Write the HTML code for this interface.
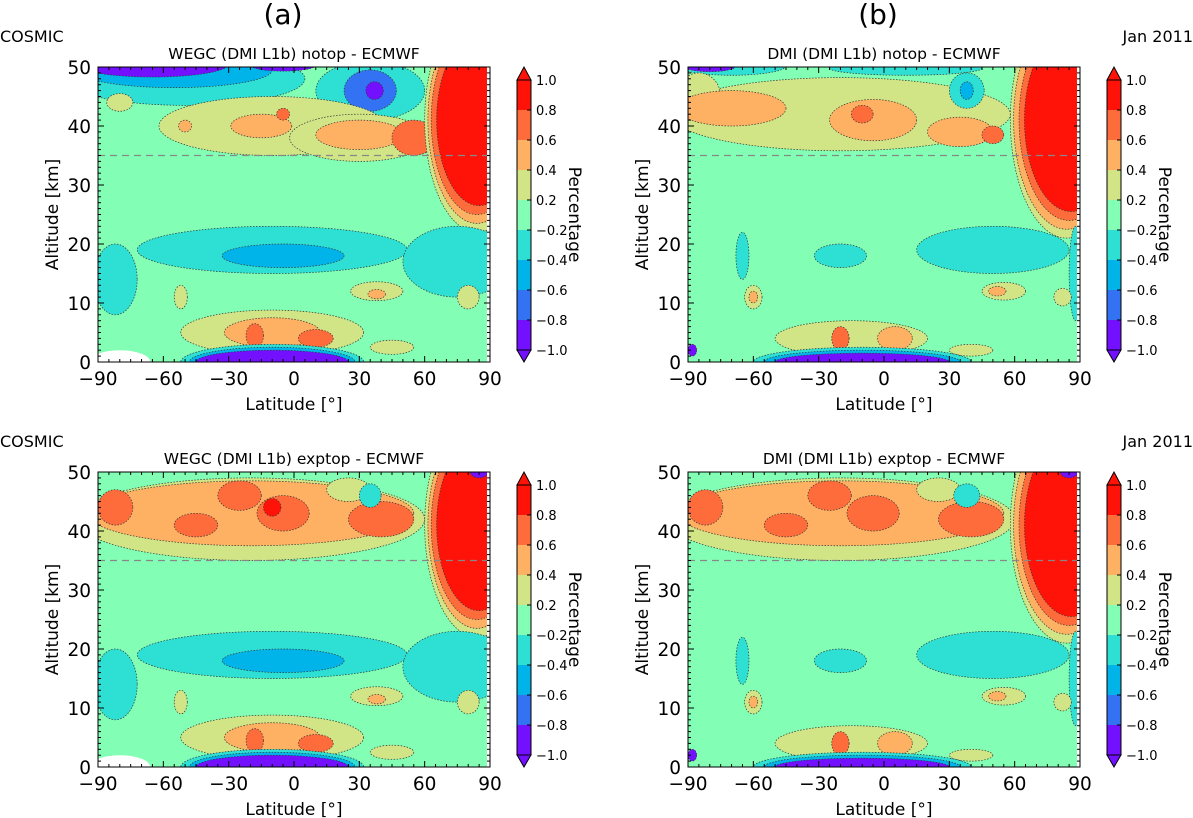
<!DOCTYPE html>
<html><head><meta charset="utf-8">
<style>
html,body{margin:0;padding:0;background:#fff;}
svg{display:block;font-family:"DejaVu Sans","Liberation Sans",sans-serif;}
</style></head>
<body>
<svg id="fig" width="1193" height="818" viewBox="0 0 1193 818" xmlns="http://www.w3.org/2000/svg">
<text x="283" y="24" font-size="28" text-anchor="middle">(a)</text>
<text x="878" y="24" font-size="28" text-anchor="middle">(b)</text>
<text x="0" y="42" font-size="16">COSMIC</text>
<text x="1193" y="42" font-size="16" text-anchor="end">Jan 2011</text>
<text x="0" y="447" font-size="16">COSMIC</text>
<text x="1193" y="447" font-size="16" text-anchor="end">Jan 2011</text>
</svg>
<script>
// level colors: 0:-1..-0.8 ... 4:-0.2..0.2 ... 8:0.8..1.0
const levelColors=['#7210ff','#3472f4','#00b4ea','#2ee0d4','#82ffb4','#d2e586','#ffb163','#ff6c3c','#ff1208'];
const cbTicks=['1.0','0.8','0.6','0.4','0.2','\u22120.2','\u22120.4','\u22120.6','\u22120.8','\u22121.0'];
const latTicks=[-90,-60,-30,0,30,60,90];
const altTicks=[0,10,20,30,40,50];
// blobs: [lat, alt, halfWidthDeg, halfHeightKm, level]  (level -1 = no data)
const blobsATop=[
[-50,48,55,4.5,3],[35,46,25,5,3],[-55,49.5,45,3,2],[35,46,12,3.5,1],[37,46,4,1.5,0],[-65,50.5,35,2.2,0],[-5,50.3,15,1,0],
[-10,40,52,5,5],[30,38,32,4,5],[-80,44,6,1.5,5],
[-15,40,14,2,6],[30,38.5,20,2.5,6],[-50,40,3,1,6],[55,38,10,3,7],[-5,42,3,1,7],
[84,41,24,19,5],[84,41,22.5,17.5,6],[84,41,21,16,7],[85,41,19.5,14.5,8],
[-10,19,62,4,3],[75,17,25,6,3],[-82,14,10,6,3],[-5,18,28,2,2],
[38,12,12,1.6,5],[80,11,5,2,5],[-52,11,3,2,5],[38,11.5,4,0.8,6],
[-10,5,42,3.8,5],[-10,5,22,2.5,6],[-18,4.5,4,2,7],[10,4,8,1.5,7],[45,2.5,10,1.2,5],
[-10,0,42,3,3],[-10,0,38,2.5,2],[-10,0,35,2,0],[-80,0,14,2,-1]
];
const blobsBTop=[
[-70,50.2,25,1.6,3],[-80,50.2,12,1,0],[10,49.8,35,1.2,3],
[-20,42,78,6.2,5],[-85,45,10,4,5],
[-70,43,25,3,6],[-5,41,20,3.5,6],[35,39,15,2.5,6],[-10,42,5,1.5,7],[50,38.5,5,1.5,7],
[38,46,8,3,3],[38,46,3,1.5,2],
[84,41,26,20,5],[84,41,24.5,18.5,6],[85,41,23,17,7],[86,41,21.5,15.5,8],
[50,19,35,4,3],[-20,18,12,2,3],[-65,18,3,4,3],[88,15,3,8,3],
[55,12,10,1.5,5],[-60,11,4,2,5],[-60,11,2,1,6],[52,12,4,0.8,6],[82,11,4,1.5,5],
[-15,4,35,3,5],[-20,4,4,2,7],[5,4,8,2,6],[40,2,10,1,5],
[-10,0,50,2.5,3],[-10,0,45,2,2],[-10,0,40,1.5,0],[-88,2,2,1,0]
];
const blobsABottom=[
[-20,42,80,7,5],[-20,43,75,5.5,6],
[-82,44,8,3,7],[-5,43,12,3,7],[-25,46,10,2.5,7],[40,42,15,3,7],[-45,41,10,2,7],[-10,44,4,1.5,8],
[25,47,10,2,5],[35,46,5,2,3],
[84,41,24,19,5],[84,41,22.5,17.5,6],[84,41,21,16,7],[85,41,19.5,14.5,8],[85,50,4,1,0],
[-10,19,62,4,3],[75,17,25,6,3],[-82,14,10,6,3],[-5,18,28,2,2],
[38,12,12,1.6,5],[80,11,5,2,5],[-52,11,3,2,5],[38,11.5,4,0.8,6],
[-10,5,42,3.8,5],[-10,5,22,2.5,6],[-18,4.5,4,2,7],[10,4,8,1.5,7],[45,2.5,10,1.2,5],
[-10,0,42,3,3],[-10,0,38,2.5,2],[-10,0,35,2,0],[-80,0,14,2,-1]
];
const blobsBBottom=[
[-20,42,80,7,5],[-20,43,75,5.5,6],
[-82,44,8,3,7],[-5,43,12,3,7],[-25,46,10,2.5,7],[40,42,15,3,7],[-45,41,10,2,7],
[25,47,10,2,5],[38,46,6,2,3],
[84,41,26,20,5],[84,41,24.5,18.5,6],[85,41,23,17,7],[86,41,21.5,15.5,8],[85,50,4,1,0],
[50,19,35,4,3],[-20,18,12,2,3],[-65,18,3,4,3],[88,15,3,8,3],
[55,12,10,1.5,5],[-60,11,4,2,5],[-60,11,2,1,6],[52,12,4,0.8,6],[82,11,4,1.5,5],
[-15,4,35,3,5],[-20,4,4,2,7],[5,4,8,2,6],[40,2,10,1,5],
[-10,0,50,2.5,3],[-10,0,45,2,2],[-10,0,40,1.5,0],[-88,2,2,1,0]
];
const NS='http://www.w3.org/2000/svg';
const fig=document.getElementById('fig');
function mk(tag,attrs,parent){const e=document.createElementNS(NS,tag);for(const k in attrs)e.setAttribute(k,attrs[k]);(parent||fig).appendChild(e);return e;}
const W=392,H=295;
function panel(x0,y0,title,blobs,id){
  const xs=lat=>x0+(lat+90)/180*W, ys=alt=>y0+(50-alt)/50*H;
  const g=mk('g',{});
  
  
  const cp=mk('clipPath',{id:'cp'+id},g);mk('rect',{x:x0,y:y0,width:W-3,height:H},cp);
  const pg=mk('g',{'clip-path':'url(#cp'+id+')'},g);
  mk('rect',{x:x0,y:y0,width:W-3,height:H,fill:levelColors[4]},pg);
  blobs.forEach(b=>{
    const e=mk('ellipse',{cx:xs(b[0]),cy:ys(b[1]),rx:b[2]*W/180,ry:b[3]*H/50,
      fill:b[4]<0?'#fff':levelColors[b[4]],stroke:b[4]<0?'none':'#333','stroke-width':0.7,'stroke-dasharray':'1.5,1.5'},pg);
    
    
  });
  const dl=mk('line',{x1:x0,x2:x0+W,y1:ys(35),y2:ys(35),stroke:'#888','stroke-width':1.3,'stroke-dasharray':'7,5'},g);
  
  
  mk('rect',{x:x0,y:y0,width:W,height:H,fill:'none',stroke:'#000','stroke-width':1},g);
  for(let l=-90;l<=90;l+=5){const L=l%30===0?6:3;
    mk('line',{x1:xs(l),x2:xs(l),y1:y0+H,y2:y0+H-L,stroke:'#000'},g);mk('line',{x1:xs(l),x2:xs(l),y1:y0,y2:y0+L,stroke:'#000'},g);}
  for(let a=0;a<=50;a+=1){const L=a%10===0?6:3;
    mk('line',{x1:x0,x2:x0+L,y1:ys(a),y2:ys(a),stroke:'#000'},g);mk('line',{x1:x0+W,x2:x0+W-L,y1:ys(a),y2:ys(a),stroke:'#000'},g);}
  latTicks.forEach(l=>{const t=mk('text',{x:xs(l),y:y0+H+23,'font-size':18.5,'text-anchor':'middle'},g);t.textContent=(l<0?'\u2212':'')+Math.abs(l);
    });
  altTicks.forEach(a=>{const t=mk('text',{x:x0-7,y:ys(a)+7,'font-size':18.5,'text-anchor':'end'},g);t.textContent=a;
    });
  const tt=mk('text',{x:x0+W/2,y:y0-8,'font-size':15.5,'text-anchor':'middle'},g);tt.textContent=title;
  
  const xl=mk('text',{x:x0+W/2,y:y0+H+48,'font-size':17,'text-anchor':'middle'},g);xl.textContent='Latitude [\u00b0]';
  
  const yl=mk('text',{x:0,y:0,'font-size':17,'text-anchor':'middle',transform:`translate(${x0-40},${y0+H/2}) rotate(-90)`},g);yl.textContent='Altitude [km]';
  
  // colorbar
  const cx=x0+W+27,cw=14,top=y0+13,seg=30;
  const cb=mk('g',{},g);
  
  for(let i=0;i<9;i++)mk('rect',{x:cx,y:top+i*seg,width:cw,height:seg,fill:levelColors[8-i]},cb);
  mk('polygon',{points:`${cx},${top} ${cx+cw/2},${y0} ${cx+cw},${top}`,fill:levelColors[8],stroke:'#000'},cb);
  mk('polygon',{points:`${cx},${top+270} ${cx+cw/2},${y0+H} ${cx+cw},${top+270}`,fill:levelColors[0],stroke:'#000'},cb);
  mk('rect',{x:cx,y:top,width:cw,height:270,fill:'none',stroke:'#000'},cb);
  cbTicks.forEach((s,i)=>{mk('line',{x1:cx+cw-4,x2:cx+cw,y1:top+i*seg,y2:top+i*seg,stroke:'#000'},cb);
    const t=mk('text',{x:cx+cw+5,y:top+i*seg+5,'font-size':13,},cb);t.textContent=s;
    });
  const pl=mk('text',{x:0,y:0,'font-size':17,'text-anchor':'middle',transform:`translate(${cx+52},${y0+H/2}) rotate(90)`},cb);pl.textContent='Percentage';
  
}
panel(98,67,'WEGC (DMI L1b) notop - ECMWF',blobsATop,'panel-a-notop');
panel(688,67,'DMI (DMI L1b) notop - ECMWF',blobsBTop,'panel-b-notop');
panel(98,472,'WEGC (DMI L1b) exptop - ECMWF',blobsABottom,'panel-a-exptop');
panel(688,472,'DMI (DMI L1b) exptop - ECMWF',blobsBBottom,'panel-b-exptop');
</script>
</body></html>
